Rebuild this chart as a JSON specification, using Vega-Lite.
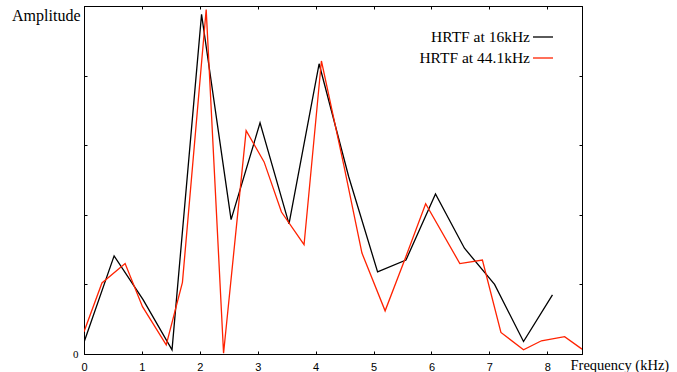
{
  "$schema": "https://vega.github.io/schema/vega-lite/v6.json",
  "width": 498,
  "height": 348,
  "autosize": {"type": "none"},
  "padding": {"left": 84, "top": 6, "right": 95, "bottom": 18},
  "background": "white",
  "config": {
    "view": {"stroke": "black", "strokeWidth": 1},
    "axis": {
      "domainColor": "black",
      "domainWidth": 1,
      "tickColor": "black",
      "tickSize": -3,
      "tickWidth": 1,
      "grid": false,
      "labelColor": "black",
      "titleColor": "black",
      "labelFont": "Liberation Sans",
      "labelFontSize": 11,
      "titleFont": "Liberation Serif",
      "titleFontWeight": "normal",
      "titleFontSize": 15
    }
  },
  "data": {
    "values": [
      {"series": "HRTF at 16kHz", "f": 0.0, "a": 0.17},
      {"series": "HRTF at 16kHz", "f": 0.52, "a": 1.41},
      {"series": "HRTF at 16kHz", "f": 1.02, "a": 0.78},
      {"series": "HRTF at 16kHz", "f": 1.52, "a": 0.06},
      {"series": "HRTF at 16kHz", "f": 2.03, "a": 4.88},
      {"series": "HRTF at 16kHz", "f": 2.54, "a": 1.93},
      {"series": "HRTF at 16kHz", "f": 3.04, "a": 3.32},
      {"series": "HRTF at 16kHz", "f": 3.54, "a": 1.87},
      {"series": "HRTF at 16kHz", "f": 4.06, "a": 4.17},
      {"series": "HRTF at 16kHz", "f": 4.57, "a": 2.55},
      {"series": "HRTF at 16kHz", "f": 5.07, "a": 1.18},
      {"series": "HRTF at 16kHz", "f": 5.56, "a": 1.35},
      {"series": "HRTF at 16kHz", "f": 6.07, "a": 2.30},
      {"series": "HRTF at 16kHz", "f": 6.57, "a": 1.52},
      {"series": "HRTF at 16kHz", "f": 7.09, "a": 1.00},
      {"series": "HRTF at 16kHz", "f": 7.59, "a": 0.18},
      {"series": "HRTF at 16kHz", "f": 8.09, "a": 0.85},
      {"series": "HRTF at 44.1kHz", "f": 0.0, "a": 0.32},
      {"series": "HRTF at 44.1kHz", "f": 0.31, "a": 1.02},
      {"series": "HRTF at 44.1kHz", "f": 0.71, "a": 1.30},
      {"series": "HRTF at 44.1kHz", "f": 1.01, "a": 0.68},
      {"series": "HRTF at 44.1kHz", "f": 1.42, "a": 0.13},
      {"series": "HRTF at 44.1kHz", "f": 1.70, "a": 1.03},
      {"series": "HRTF at 44.1kHz", "f": 2.11, "a": 4.95},
      {"series": "HRTF at 44.1kHz", "f": 2.41, "a": 0.01},
      {"series": "HRTF at 44.1kHz", "f": 2.80, "a": 3.21},
      {"series": "HRTF at 44.1kHz", "f": 3.11, "a": 2.76},
      {"series": "HRTF at 44.1kHz", "f": 3.41, "a": 2.04},
      {"series": "HRTF at 44.1kHz", "f": 3.80, "a": 1.57},
      {"series": "HRTF at 44.1kHz", "f": 4.10, "a": 4.21},
      {"series": "HRTF at 44.1kHz", "f": 4.49, "a": 2.70},
      {"series": "HRTF at 44.1kHz", "f": 4.80, "a": 1.45},
      {"series": "HRTF at 44.1kHz", "f": 5.20, "a": 0.62},
      {"series": "HRTF at 44.1kHz", "f": 5.55, "a": 1.38},
      {"series": "HRTF at 44.1kHz", "f": 5.90, "a": 2.16},
      {"series": "HRTF at 44.1kHz", "f": 6.49, "a": 1.30},
      {"series": "HRTF at 44.1kHz", "f": 6.88, "a": 1.35},
      {"series": "HRTF at 44.1kHz", "f": 7.20, "a": 0.31},
      {"series": "HRTF at 44.1kHz", "f": 7.59, "a": 0.06},
      {"series": "HRTF at 44.1kHz", "f": 7.90, "a": 0.19},
      {"series": "HRTF at 44.1kHz", "f": 8.30, "a": 0.25},
      {"series": "HRTF at 44.1kHz", "f": 8.60, "a": 0.07}
    ]
  },
  "encoding": {
    "color": {
      "field": "series",
      "type": "nominal",
      "scale": {"domain": ["HRTF at 16kHz", "HRTF at 44.1kHz"], "range": ["#000000", "#ff2200"]},
      "legend": {
        "title": null,
        "orient": "none",
        "legendX": 448,
        "legendY": 20,
        "symbolType": "stroke",
        "symbolSize": 400,
        "symbolStrokeWidth": 1.3,
        "labelAlign": "right",
        "labelOffset": -24,
        "labelFont": "Liberation Serif",
        "labelFontSize": 15.5,
        "labelColor": "black",
        "labelLimit": 300,
        "rowPadding": 1
      }
    }
  },
  "layer": [
    {
      "transform": [{"filter": "datum.series == 'HRTF at 16kHz'"}],
      "mark": {"type": "line", "strokeWidth": 1.3, "clip": true},
      "encoding": {
        "x": {
          "field": "f", "type": "quantitative",
          "scale": {"domain": [0, 8.6], "nice": false, "zero": false},
          "axis": {
            "orient": "bottom",
            "values": [0, 1, 2, 3, 4, 5, 6, 7, 8],
            "labelPadding": 10,
            "labelFlush": false,
            "title": "Frequency (kHz)",
            "titleFontSize": 14.5,
            "titleAnchor": null,
            "titleAlign": "left",
            "titleBaseline": "middle",
            "titleX": 486,
            "titleY": 11
          }
        },
        "y": {
          "field": "a", "type": "quantitative",
          "scale": {"domain": [0, 5], "nice": false},
          "axis": {
            "orient": "left",
            "values": [0, 1, 2, 3, 4, 5],
            "labelExpr": "datum.value == 0 ? '0' : ''",
            "labelPadding": 9,
            "labelFont": "Liberation Serif",
            "labelFontSize": 11,
            "title": "Amplitude",
            "titleFontSize": 16,
            "titleAngle": 0,
            "titleAlign": "right",
            "titleBaseline": "middle",
            "titleX": -4,
            "titleY": 9
          }
        }
      }
    },
    {
      "transform": [{"filter": "datum.series == 'HRTF at 44.1kHz'"}],
      "mark": {"type": "line", "strokeWidth": 1.3, "clip": true},
      "encoding": {
        "x": {
          "field": "f", "type": "quantitative",
          "axis": {"orient": "top", "values": [0, 1, 2, 3, 4, 5, 6, 7, 8], "labels": false, "title": null}
        },
        "y": {
          "field": "a", "type": "quantitative",
          "axis": {"orient": "right", "values": [0, 1, 2, 3, 4, 5], "labels": false, "title": null}
        }
      }
    }
  ],
  "resolve": {"axis": {"x": "independent", "y": "independent"}}
}
